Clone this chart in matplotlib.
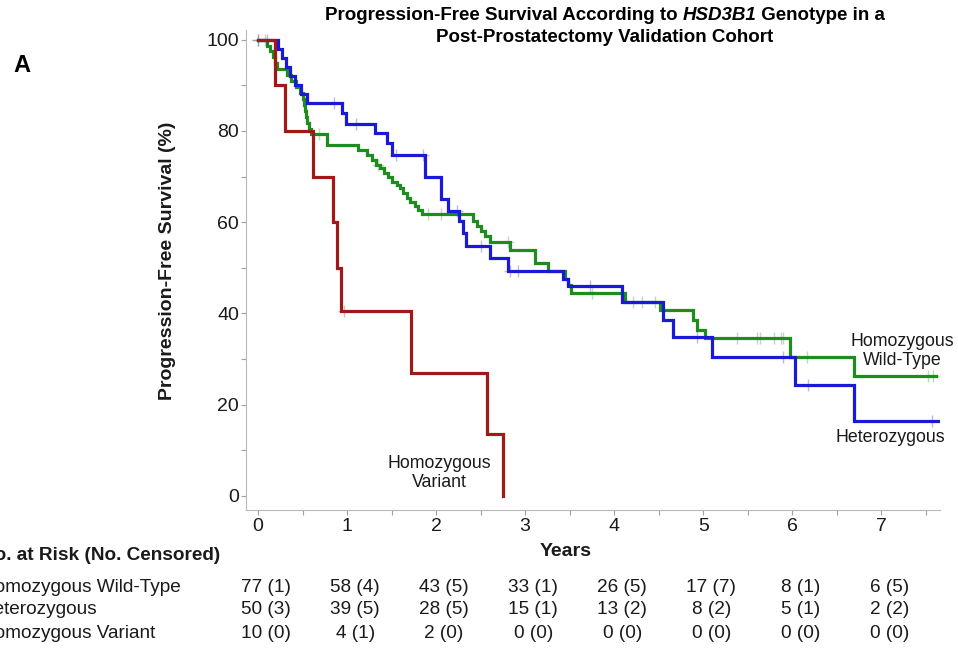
import matplotlib
matplotlib.use("Agg")
import matplotlib.pyplot as plt
import matplotlib.transforms as mtransforms
import numpy as np

plt.rcParams['font.family'] = ['Liberation Sans', 'DejaVu Sans']

# Kaplan-Meier steps (years, % progression-free)
wt_t = [0, 0.105, 0.14, 0.17, 0.19, 0.21, 0.32, 0.37, 0.43, 0.47, 0.5, 0.52, 0.53, 0.54, 0.55, 0.57,
        0.6, 0.78, 1.12, 1.22, 1.28, 1.33, 1.37, 1.42, 1.46, 1.51, 1.56, 1.6, 1.63, 1.67, 1.71,
        1.76, 1.8, 1.84, 2.42, 2.46, 2.51, 2.55, 2.6, 2.83, 3.11, 3.26, 3.45, 3.48, 3.52, 4.12,
        4.52, 4.89, 4.93, 5.02, 5.98, 6.69, 7.62]
wt_s = [100, 98.7, 97.4, 96.1, 94.8, 93.5, 92.2, 90.9, 89.6, 88.3, 87.0, 85.7, 84.4, 83.1, 81.8, 80.5,
        79.4, 77.0, 75.9, 74.8, 73.7, 72.6, 71.9, 70.8, 70.0, 68.9, 68.2, 67.5, 66.4, 65.4, 64.5,
        63.5, 62.7, 61.8, 60.2, 59.2, 58.0, 56.9, 55.6, 53.9, 51.0, 49.4, 47.6, 46.3, 44.5, 42.6,
        40.8, 38.6, 36.4, 34.6, 30.5, 26.3, 26.3]
wt_cens = [0.0, 0.08, 0.68, 1.35, 1.91, 2.06, 2.81, 3.75, 4.21, 4.31, 4.46, 5.38, 5.6, 5.64,
           5.79, 5.87, 5.9, 6.17, 7.53, 7.58]

he_t = [0, 0.22, 0.27, 0.31, 0.36, 0.42, 0.48, 0.55, 0.94, 0.99, 1.31, 1.45, 1.5, 1.88, 2.06,
        2.13, 2.26, 2.3, 2.34, 2.6, 2.81, 3.43, 3.48, 4.09, 4.55, 4.66, 5.1, 6.03, 6.69, 7.64]
he_s = [100, 98, 96, 94, 92, 90, 88, 86, 84, 81.6, 79.6, 77.3, 74.8, 70.0, 65.0,
        62.4, 60.2, 57.6, 54.8, 52.1, 49.3, 47.5, 45.9, 42.6, 38.6, 34.9, 30.5, 24.3, 16.4, 16.4]
he_cens = [0.0, 0.1, 0.85, 1.1, 1.55, 1.85, 2.23, 2.51, 2.83, 2.92, 3.73, 4.93, 5.9, 6.18, 7.57]

hv_t = [0, 0.19, 0.3, 0.62, 0.84, 0.89, 0.93, 1.72, 2.57, 2.75]
hv_s = [100, 90, 80, 70, 60, 50, 40.5, 27.0, 13.5, 0]
hv_cens = [0.97]

years = [0, 1, 2, 3, 4, 5, 6, 7]
row_names = ['Homozygous Wild-Type', 'Heterozygous', 'Homozygous Variant']
risk_wt = [77, 58, 43, 33, 26, 17, 8, 6]
cens_wt = [1, 4, 5, 1, 5, 7, 1, 5]
risk_he = [50, 39, 28, 15, 13, 8, 5, 2]
cens_he = [3, 5, 5, 1, 2, 2, 1, 2]
risk_hv = [10, 4, 2, 0, 0, 0, 0, 0]
cens_hv = [0, 1, 0, 0, 0, 0, 0, 0]

c_wt = '#1e8c1e'
c_he = '#1a1ad6'
c_hv = '#a01818'
txt = '#1a1a1a'

W, H = 958, 650
fig = plt.figure(figsize=(W / 100, H / 100), dpi=100)
ax = fig.add_axes([246 / W, 1 - 510 / H, (940 - 246) / W, (510 - 30) / H])


def step_value(t, s, x):
    i = np.searchsorted(t, x, side='right') - 1
    return np.array(s)[np.clip(i, 0, len(s) - 1)]


for t, s, cens, col in [(wt_t, wt_s, wt_cens, c_wt), (he_t, he_s, he_cens, c_he), (hv_t, hv_s, hv_cens, c_hv)]:
    ax.step(t, s, where='post', color=col, lw=2.3, solid_joinstyle='miter')
    ax.plot(cens, step_value(t, s, cens), '+', color=col, ms=8, mew=1, alpha=0.3, ls='none')

ax.set_xlim(-0.135, 7.66)
ax.set_ylim(-3.07, 102.1)
ax.set_xticks(years)
ax.set_xticks(np.arange(0.5, 7.6, 1), minor=True)
ax.set_yticks([0, 20, 40, 60, 80, 100])
ax.set_yticks([10, 30, 50, 70, 90], minor=True)
for side in ['top', 'right']:
    ax.spines[side].set_visible(False)
for side in ['left', 'bottom']:
    ax.spines[side].set_color('#b8b8b8')
ax.tick_params(which='both', color='#a0a0a0', length=3.5, width=0.8, labelsize=14,
               labelcolor=txt)
ax.tick_params(axis='y', pad=1.5)
ax.tick_params(axis='x', pad=2.5)

# curve labels
lab = dict(ha='center', va='center', fontsize=12.8, color=txt, linespacing=1.2)
ax.text(2.04, 5.0, 'Homozygous\nVariant', **lab)
ax.text(7.24, 31.8, 'Homozygous\nWild-Type', **lab)
ax.text(7.1, 12.9, 'Heterozygous', **lab)

# axis labels
fig.text(168 / W, 1 - 261 / H, 'Progression-Free Survival (%)', rotation=90, ha='center', va='center',
         fontsize=14, fontweight='bold', color=txt)
fig.text(566 / W, 1 - 551 / H, 'Years', ha='center', va='center', fontsize=14, fontweight='bold',
         color=txt)

# title with italic gene name, line 1 centred by measuring its pieces
tsize = 13.5
tcx = 605
t1 = fig.text(0, 1 - 15 / H, 'Progression-Free Survival According to ', ha='left', va='center',
              fontsize=tsize, fontweight='bold')
t2 = fig.text(0, 0, 'HSD3B1', fontsize=tsize, fontweight='bold', style='italic', va='bottom')
t3 = fig.text(0, 0, ' Genotype in a', fontsize=tsize, fontweight='bold', va='bottom')
fig.canvas.draw()
r = fig.canvas.get_renderer()
w1 = t1.get_window_extent(r).width
w2 = t2.get_window_extent(r).width
w3 = t3.get_window_extent(r).width
x0 = tcx - (w1 + w2 + w3) / 2
t1.set_x(x0 / W)
fig.canvas.draw()
bb1 = t1.get_window_extent(r)
inv = fig.transFigure.inverted()
t2.set_position(inv.transform((bb1.x1, bb1.y0)))
t3.set_position(inv.transform((bb1.x1 + w2, bb1.y0)))
fig.text(tcx / W, 1 - 38 / H, 'Post-Prostatectomy Validation Cohort', ha='center', va='center',
         fontsize=tsize, fontweight='bold')

fig.text(22 / W, 1 - 65 / H, 'A', ha='center', va='center', fontsize=17, fontweight='bold')

# number at risk table
tab = 13.7
fig.text(-19 / W, 1 - 556 / H, 'No. at Risk (No. Censored)', ha='left', va='center', fontsize=tab,
         fontweight='bold', color=txt)
trans = mtransforms.blended_transform_factory(ax.transData, fig.transFigure)
rows_y = [587, 609, 633]
for name, risk, cens, yp in zip(row_names, [risk_wt, risk_he, risk_hv], [cens_wt, cens_he, cens_hv], rows_y):
    fig.text(-19 / W, 1 - yp / H, name, ha='left', va='center', fontsize=tab, color=txt)
    for yr, n, c in zip(years, risk, cens):
        ax.text(yr + 0.09, 1 - yp / H, f'{n} ({c})', transform=trans, ha='center', va='center',
                fontsize=tab, color=txt, clip_on=False)

fig.savefig('out.png', dpi=100)
